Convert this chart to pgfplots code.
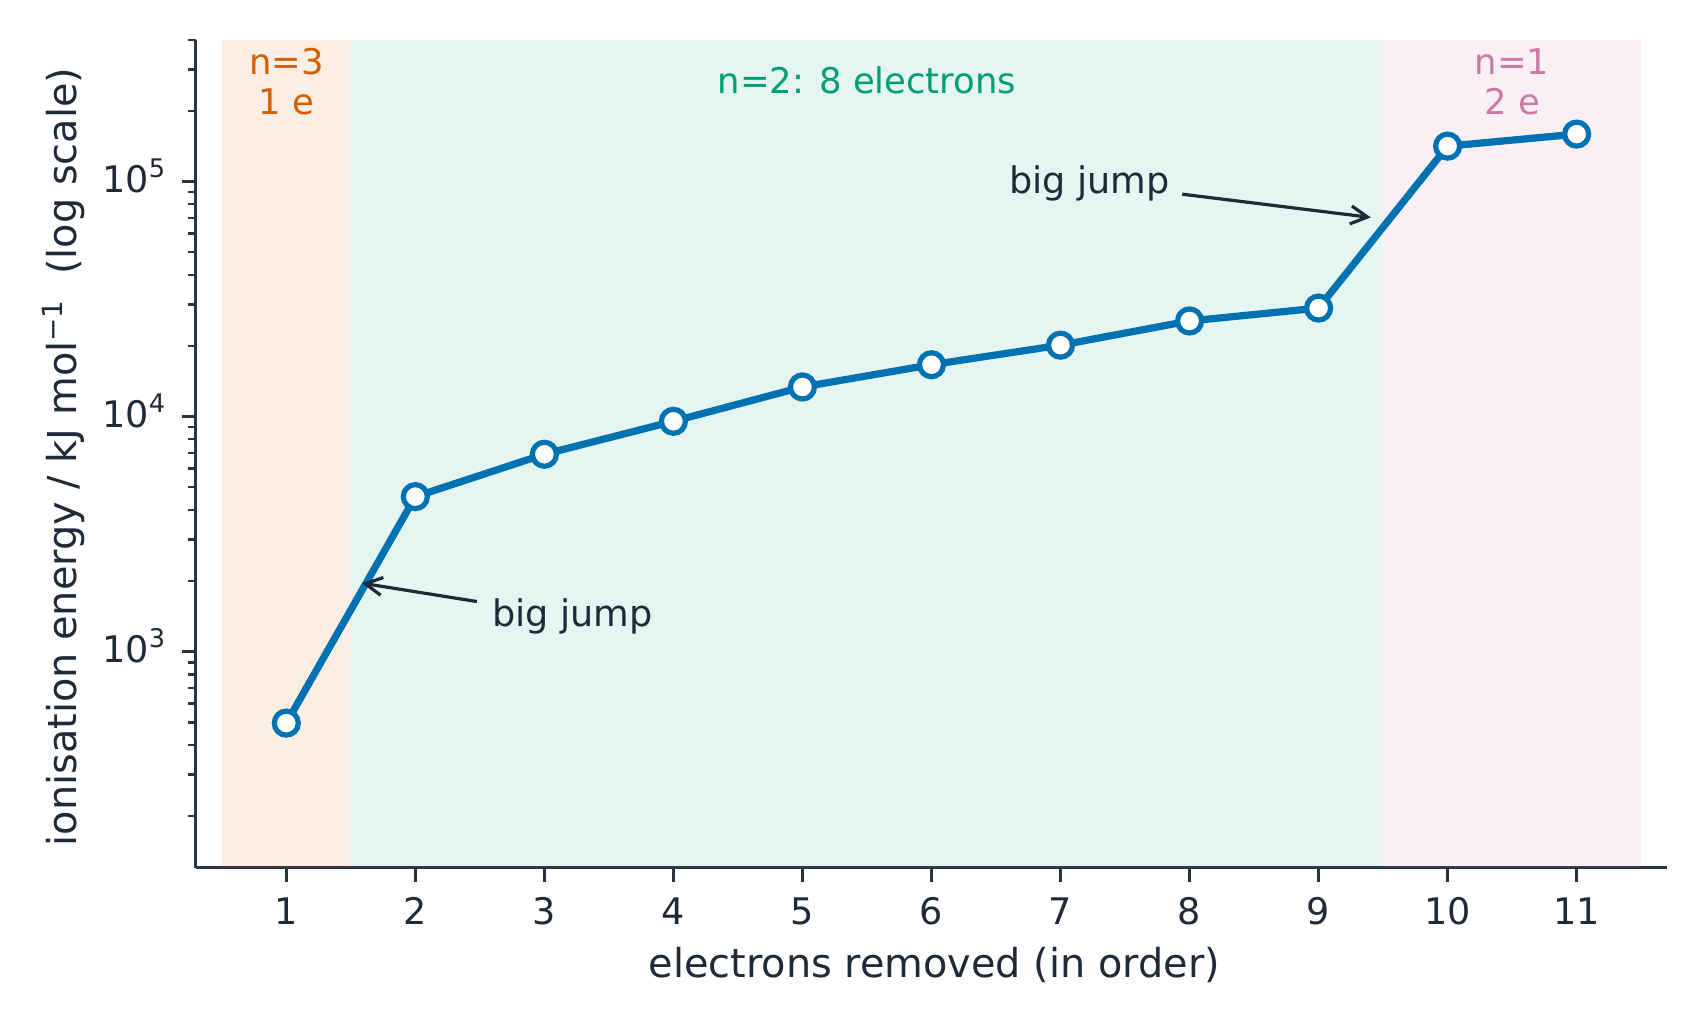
\documentclass[border=0pt]{standalone}
\usepackage{fontspec}
\setmainfont{DejaVu Sans}
\usepackage{pgfplots}
\pgfplotsset{compat=1.18}
\usetikzlibrary{arrows.meta}
\definecolor{txt}{HTML}{1F2937}
\definecolor{axc}{HTML}{2B3340}
\definecolor{cblue}{HTML}{0072B2}
\definecolor{corange}{HTML}{D55E00}
\definecolor{cgreen}{HTML}{009E73}
\definecolor{cpink}{HTML}{CC79A7}
\newcommand\tickfont{\fontsize{9.15}{11}\selectfont}
\newcommand\labfont{\fontsize{9.95}{12}\selectfont}
\newcommand\regfont{\fontsize{8.85}{10}\selectfont}
\begin{document}
\begin{tikzpicture}
\useasboundingbox (-49pt,-39.75pt) rectangle (377.5pt,217pt);
\begin{axis}[
  at={(0,0)}, anchor=south west,
  scale only axis, width=367.75pt, height=207pt,
  ymode=log, xmin=0.3, xmax=11.7, ymin=120, ymax=400000,
  axis lines=left, axis line style={-, draw=axc, line width=0.75pt},
  tick align=outside, major tick length=3.5pt, minor tick length=2pt,
  every tick/.style={draw=axc, line width=0.75pt},
  minor tick style={draw=axc, line width=0.6pt},
  xtick={1,2,3,4,5,6,7,8,9,10,11},
  ytick={1000,10000,100000},
  yticklabels={10\textsuperscript{3},10\textsuperscript{4},10\textsuperscript{5}},
  minor ytick={200,300,400,500,600,700,800,900,2000,3000,4000,5000,6000,7000,8000,9000,20000,30000,40000,50000,60000,70000,80000,90000,200000,300000,400000},
  /pgf/number format/assume math mode=true,
  xticklabel style={font=\tickfont, text=txt, inner sep=0pt, anchor=base, yshift=-10.75pt},
  yticklabel style={font=\tickfont, text=txt, inner sep=0pt, anchor=base east, xshift=-3.5pt, yshift=-2.8pt},
  xlabel={electrons removed (in order)},
  ylabel={ionisation energy / kJ mol\textsuperscript{−1}\hspace{0.6em}(log scale)},
  xlabel style={at={(axis description cs:0.502,-0.1325)}, anchor=base, font=\labfont, text=txt, inner sep=0pt},
  ylabel style={at={(axis description cs:-0.0809,0.4964)}, anchor=base, font=\labfont, text=txt, inner sep=0pt},
  clip=false,
]
\addplot[draw=none, fill=corange, fill opacity=0.1] coordinates {(0.5,120) (0.5,400000) (1.5,400000) (1.5,120)} -- cycle;
\addplot[draw=none, fill=cgreen, fill opacity=0.1] coordinates {(1.5,120) (1.5,400000) (9.5,400000) (9.5,120)} -- cycle;
\addplot[draw=none, fill=cpink, fill opacity=0.12] coordinates {(9.5,120) (9.5,400000) (11.5,400000) (11.5,120)} -- cycle;
\addplot[cblue, line width=1.8pt, mark=*, mark size=3.0pt, mark options={fill=white, draw=cblue, line width=1.3pt}]
  coordinates {(1,496) (2,4562) (3,6910) (4,9543) (5,13354) (6,16613) (7,20117) (8,25496) (9,28932) (10,141362) (11,159075)};
\node[anchor=base, text=corange, font=\regfont, inner sep=0pt] at (axis cs:1,285000) {n=3};
\node[anchor=base, text=corange, font=\regfont, inner sep=0pt] at (axis cs:1,192600) {1 e};
\node[anchor=base, text=cgreen, font=\regfont, inner sep=0pt] at (axis cs:5.5,236600) {n=2: 8 electrons};
\node[anchor=base, text=cpink, font=\regfont, inner sep=0pt] at (axis cs:10.5,285000) {n=1};
\node[anchor=base, text=cpink, font=\regfont, inner sep=0pt] at (axis cs:10.5,192600) {2 e};
\node[anchor=base west, text=txt, font=\tickfont, inner sep=0pt] at (axis cs:2.59,1274) {big jump};
\node[anchor=base west, text=txt, font=\tickfont, inner sep=0pt] at (axis cs:6.595,88900) {big jump};
\draw[txt, line width=0.8pt, -{Straight Barb[length=4.2pt,width=4.5pt]}] (axis cs:2.477,1632) -- (axis cs:1.587,1954);
\draw[txt, line width=0.8pt, -{Straight Barb[length=4.2pt,width=4.5pt]}] (axis cs:7.943,88300) -- (axis cs:9.405,70300);
\end{axis}
\end{tikzpicture}
\end{document}
